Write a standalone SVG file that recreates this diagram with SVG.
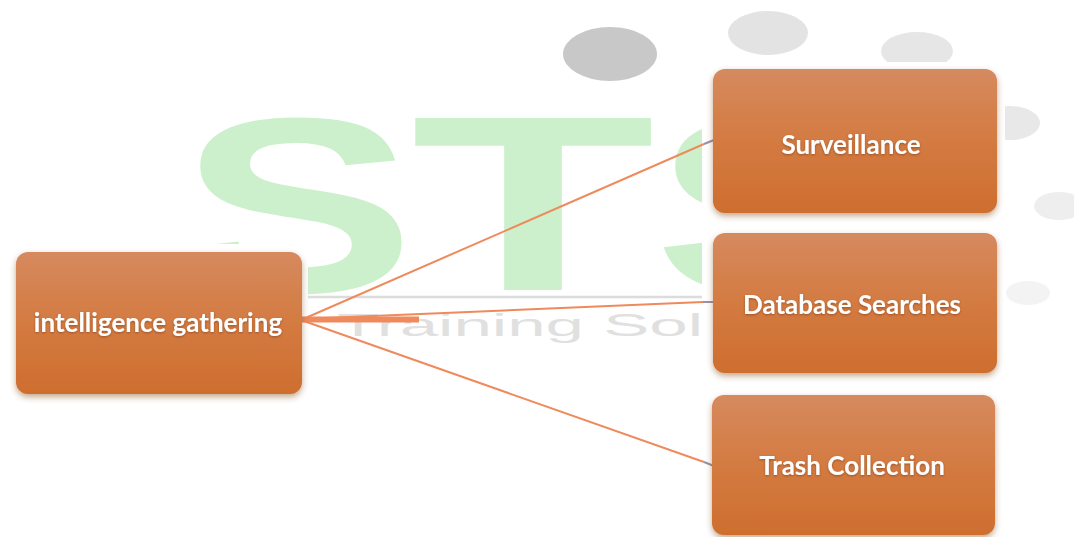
<svg xmlns="http://www.w3.org/2000/svg" width="1074" height="537" viewBox="0 0 1074 537">
  <defs>
    <linearGradient id="boxFill" x1="0" y1="0" x2="0" y2="1">
      <stop offset="0" stop-color="#D68A5F"/>
      <stop offset="0.45" stop-color="#D47C44"/>
      <stop offset="1" stop-color="#CE6E2E"/>
    </linearGradient>
    <filter id="shadow" x="-10%" y="-10%" width="120%" height="125%">
      <feDropShadow dx="0" dy="3" stdDeviation="3" flood-color="#7a3a10" flood-opacity="0.45"/>
    </filter>
    <filter id="tshadow" x="-5%" y="-20%" width="110%" height="140%">
      <feDropShadow dx="0" dy="1" stdDeviation="1" flood-color="#5a2a08" flood-opacity="0.5"/>
    </filter>
    <clipPath id="leftOfPanel">
      <rect x="0" y="0" width="702" height="537"/>
    </clipPath>
  </defs>
  <style>
    .wm-green { fill: #CBF0CB; font-family: "Liberation Sans", Arial, sans-serif; font-weight: 700; font-size: 250px; }
    .wm-grey { fill: #E0E0E0; font-family: "Liberation Sans", Arial, sans-serif; font-weight: 400; font-size: 32px; }
    .box { fill: url(#boxFill); filter: url(#shadow); }
    .label { fill: #FFFFFF; font-family: Lato, "Open Sans", sans-serif; font-weight: 700; font-size: 26px; text-anchor: middle; filter: url(#tshadow); }
    .conn { stroke: #EE8A5C; stroke-width: 2; fill: none; }
    .tip { stroke: #9C90A6; stroke-width: 2; fill: none; }
  </style>

  <rect x="0" y="0" width="1074" height="537" fill="#FFFFFF"/>

  <!-- watermark -->
  <g id="watermark">
    <ellipse cx="610" cy="54" rx="47" ry="27" fill="#C8C8C8"/>
    <ellipse cx="768" cy="33" rx="40" ry="22" fill="#E3E3E3"/>
    <ellipse cx="917" cy="51" rx="36" ry="19" fill="#E6E6E6"/>
    <ellipse cx="1010" cy="123" rx="30" ry="17" fill="#E8E8E8"/>
    <ellipse cx="1059" cy="206" rx="25" ry="14" fill="#EEEEEE"/>
    <ellipse cx="1028" cy="293" rx="22" ry="12" fill="#F3F3F3"/>
    <text class="wm-green" transform="translate(297,292) scale(1.42,1)" text-anchor="middle">S</text>
    <text class="wm-green" transform="translate(533,290) scale(1.6,1)" text-anchor="middle">T</text>
    <g clip-path="url(#leftOfPanel)">
      <text class="wm-green" transform="translate(772,292) scale(1.42,1)" text-anchor="middle">S</text>
    </g>
    <line x1="300" y1="297" x2="710" y2="297" stroke="#DCDCDC" stroke-width="2.5"/>
    <text class="wm-grey" x="337" y="336" textLength="366" lengthAdjust="spacingAndGlyphs">Training Sol</text>
  </g>

  <!-- white panels behind nodes -->
  <rect x="4" y="244" width="304" height="161" fill="#FFFFFF"/>
  <rect x="702" y="62" width="303" height="475" fill="#FFFFFF"/>

  <g id="connectors">
    <line class="conn" x1="301" y1="320" x2="704" y2="144"/>
    <line class="tip" x1="704" y1="144" x2="714" y2="140"/>
    <line class="conn" x1="301" y1="319" x2="703" y2="302"/>
    <line class="tip" x1="703" y1="302" x2="714" y2="302"/>
    <line class="conn" x1="301" y1="320" x2="704" y2="462"/>
    <line class="tip" x1="704" y1="462" x2="714" y2="466"/>
    <rect x="300" y="316.5" width="119" height="6" fill="#EE8A5C"/>
  </g>

  <g id="node-intelligence">
    <rect class="box" x="16" y="252" width="286" height="142" rx="12"/>
    <text class="label" x="158" y="332">intelligence gathering</text>
  </g>

  <g id="node-surveillance">
    <rect class="box" x="713" y="69" width="284" height="144" rx="12"/>
    <text class="label" x="851" y="154">Surveillance</text>
  </g>

  <g id="node-database">
    <rect class="box" x="713" y="233" width="284" height="140" rx="12"/>
    <text class="label" x="852" y="314">Database Searches</text>
  </g>

  <g id="node-trash">
    <rect class="box" x="712" y="395" width="283" height="140" rx="12"/>
    <text class="label" x="852" y="475">Trash Collection</text>
  </g>
</svg>
